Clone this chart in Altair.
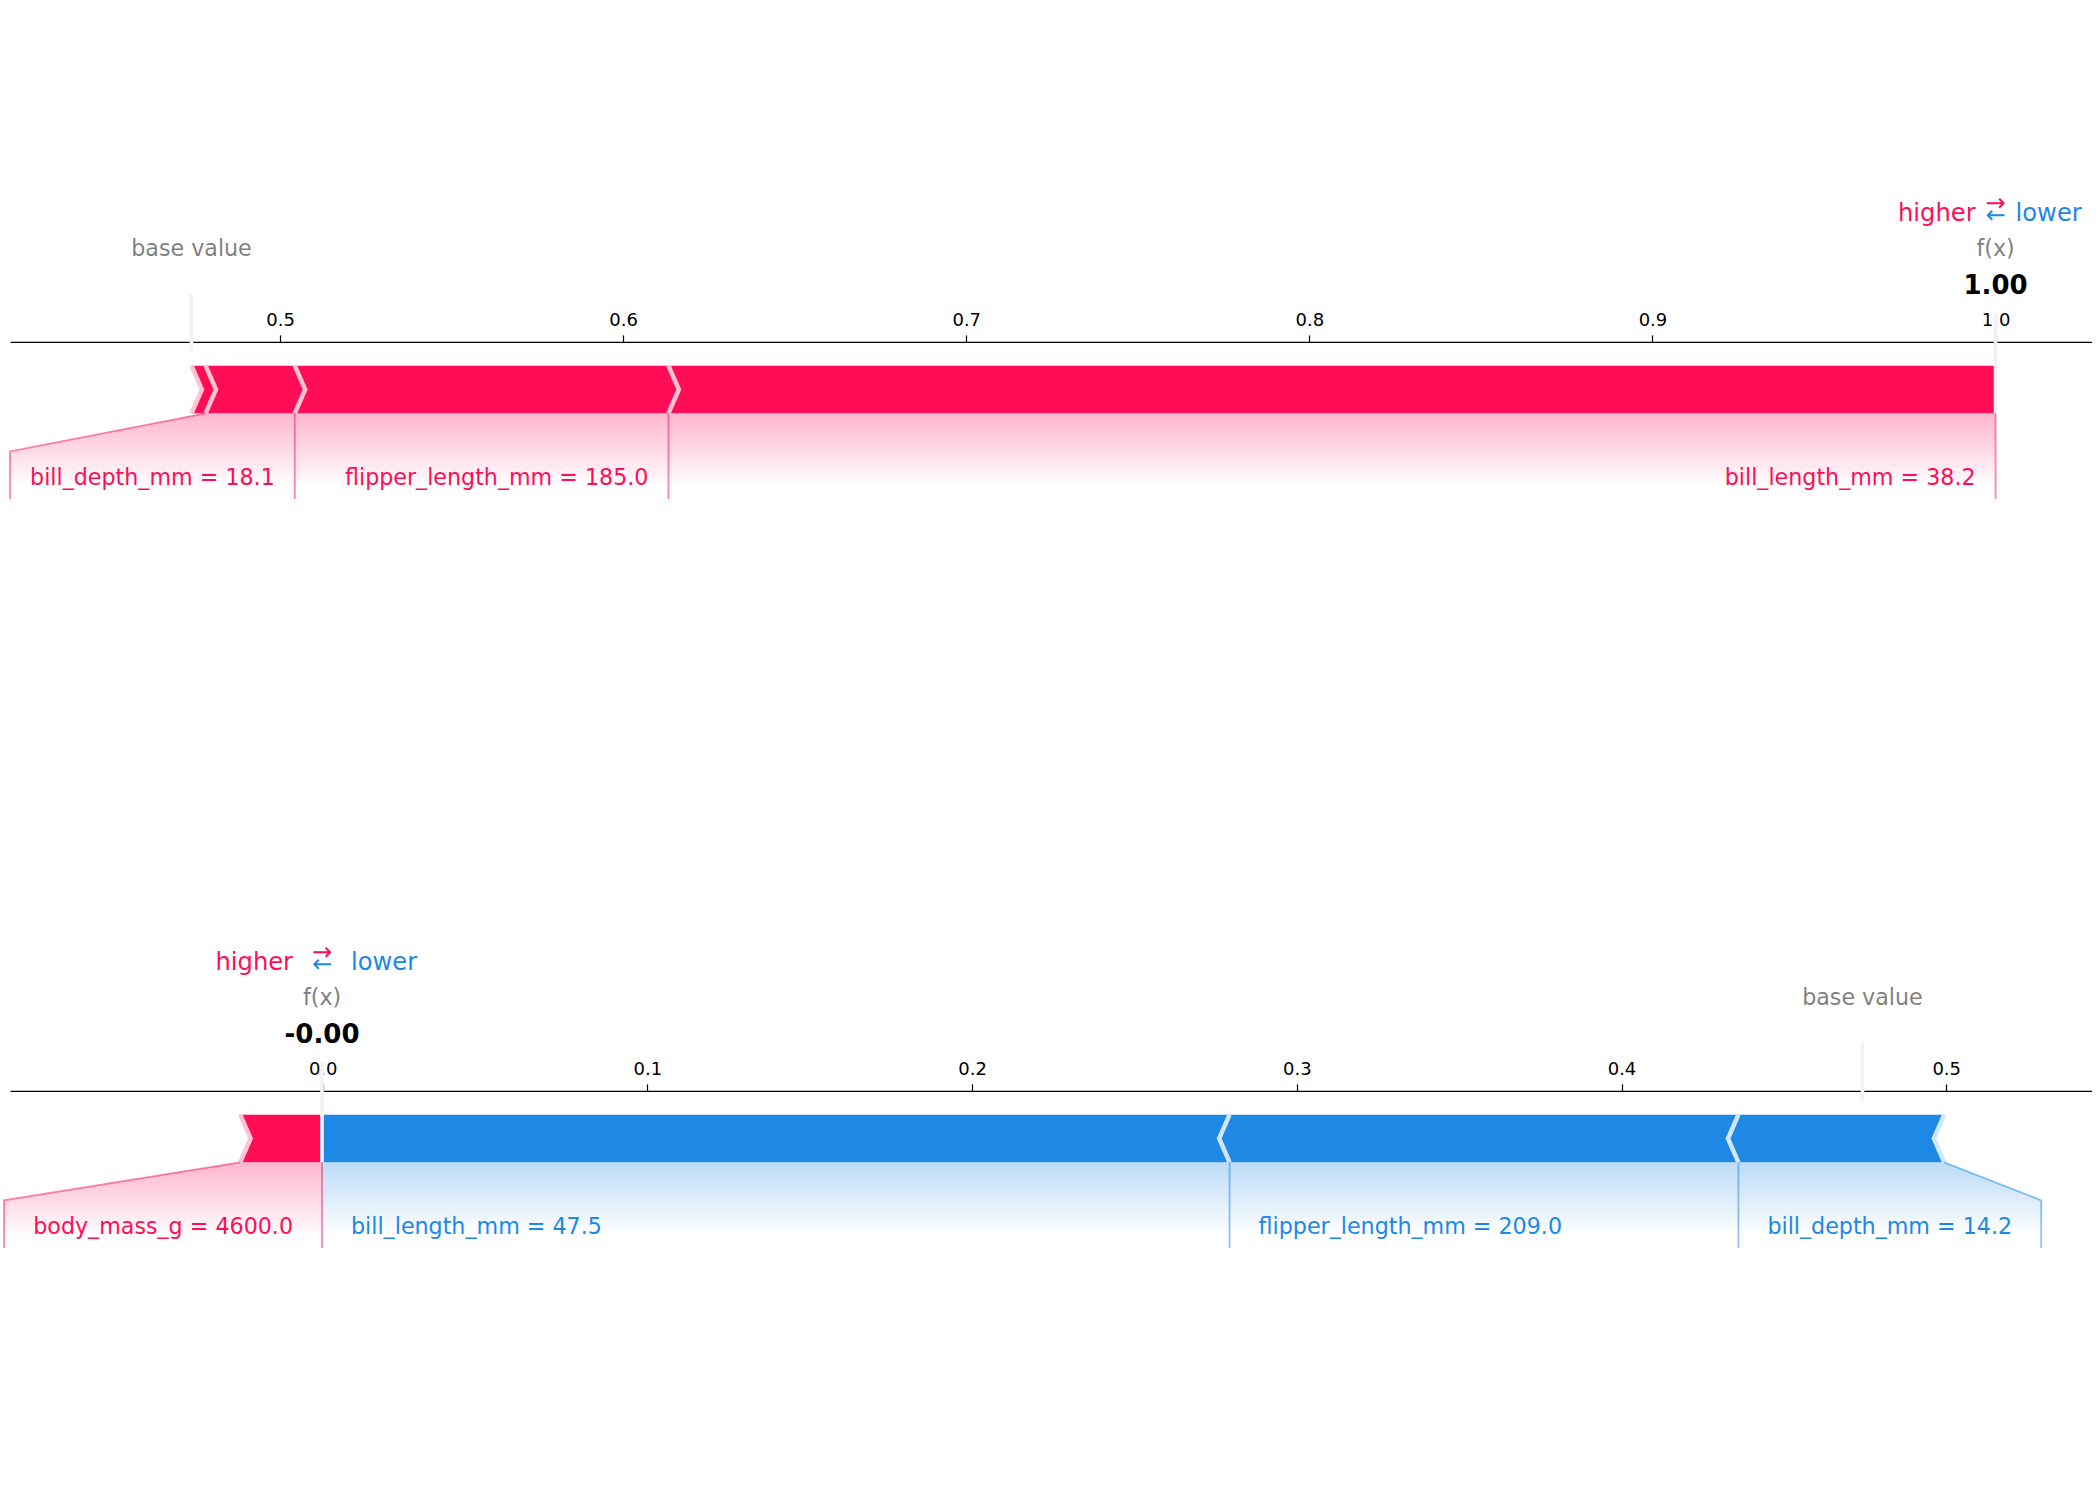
import altair as alt
import pandas as pd

# ---------------- data: upper force plot ----------------
TOP_FEATURES = ["bill_length_mm", "flipper_length_mm", "bill_depth_mm", "body_mass_g"]
TOP_VALUES = ["38.2", "185.0", "18.1", ""]          # "" = too small to be labelled
TOP_SHAP = [0.3868, 0.1089, 0.0260, 0.0041]
TOP_BASE = 0.4742
TOP_FX_TEXT = "1.00"
TOP_XDOMAIN = [0.4213, 1.0281]
TOP_TICKS = [0.5, 0.6, 0.7, 0.8, 0.9, 1.0]

# ---------------- data: lower force plot ----------------
BOT_FEATURES = ["body_mass_g", "bill_length_mm", "flipper_length_mm", "bill_depth_mm"]
BOT_VALUES = ["4600.0", "47.5", "209.0", "14.2"]
BOT_SHAP = [0.0252, -0.2795, -0.1567, -0.0634]
BOT_BASE = 0.4742
BOT_FX_TEXT = "-0.00"
BOT_XDOMAIN = [-0.0963, 0.5449]
BOT_TICKS = [0.0, 0.1, 0.2, 0.3, 0.4, 0.5]

# ---------------- style ----------------
RED, RED_LIGHT, RED_SHADE = "#FF0D57", "#FFC3D5", "#FFB6CD"
BLUE, BLUE_LIGHT, BLUE_SHADE = "#1E88E5", "#D1E6FA", "#BCDBF7"
GRAY_LINE = "#F2F2F2"
FONT = "DejaVu Sans"

W, H = 2082, 749
PX_PER_Y = 476.0
Y_TOP = 0.8683
Y_BOT = Y_TOP - H / PX_PER_Y
BAR_H = 0.1
LABEL_FS = 22.2
HL_FS = 24.2
VAL_FS = 26.0

ADV = {' ': 651, '.': 651, '=': 1716, '_': 1024, '-': 739, '(': 799, ')': 799,
       'a': 1255, 'b': 1300, 'c': 1126, 'd': 1300, 'e': 1260, 'f': 721, 'g': 1300,
       'h': 1298, 'i': 569, 'j': 569, 'k': 1186, 'l': 569, 'm': 1995, 'n': 1298,
       'o': 1253, 'p': 1300, 'q': 1300, 'r': 842, 's': 1067, 't': 803, 'u': 1298,
       'v': 1212, 'w': 1675, 'x': 1212, 'y': 1212, 'z': 1075}


def text_width(s, fs):
    return sum(ADV.get(c, 1303) for c in s) / 2048.0 * fs


def build_panel(features, values, shap, base, fx_text, xdomain, ticks, off_px):
    xr = xdomain[1] - xdomain[0]
    upx = xr / W
    off = off_px * upx
    ind = xr / 200.0
    out = base + sum(shap)
    items = list(zip(features, values, shap))
    pos = sorted([t for t in items if t[2] > 0], key=lambda t: -t[2])
    neg = sorted([t for t in items if t[2] < 0], key=lambda t: t[2])

    bars, seps, lines, texts = [], [], [], []
    ys = [0.0, BAR_H / 2, BAR_H]

    # ---- bars & separators ----
    pre = out
    for i, (f, v, s) in enumerate(pos):
        right, left = pre, pre - s
        pre = left
        if i == 0:
            xs = [left, left + ind, left]
            x2s = [right, right, right]
        else:
            xs = [left, left + 0.9 * ind, left]
            x2s = [right, right + 0.9 * ind, right]
        for y, a, b in zip(ys, xs, x2s):
            bars.append(dict(fid="p" + f, x=a, x2=b, y=y, col=RED))
        for k, (a, y) in enumerate([(left, 0.0), (left + ind, BAR_H / 2), (left, BAR_H)]):
            seps.append(dict(fid="p" + f, k=k, x=a, y=y, col=RED_LIGHT))
    pre = out
    for i, (f, v, s) in enumerate(neg):
        left, right = pre, pre - s
        pre = right
        if i == 0:
            xs = [left, left, left]
            x2s = [right, right - ind, right]
        else:
            xs = [left, left - 0.9 * ind, left]
            x2s = [right, right - 0.9 * ind, right]
        for y, a, b in zip(ys, xs, x2s):
            bars.append(dict(fid="n" + f, x=a, x2=b, y=y, col=BLUE))
        for k, (a, y) in enumerate([(right, 0.0), (right - ind, BAR_H / 2), (right, BAR_H)]):
            seps.append(dict(fid="n" + f, k=k, x=a, y=y, col=BLUE_LIGHT))

    # ---- labels (positive side) ----
    shades = {}
    lid = 0
    if pos:
        for k, (a, y) in enumerate([(out, 0.0), (out, -0.18)]):
            lines.append(dict(lid=lid, k=k, x=a, y=y, col=RED))
        lid += 1
    start, pre, box_end = out, out, out
    for f, v, s in pos:
        if v == "":
            break
        val = pre - s
        label = f + " = " + v
        tw = text_width(label, LABEL_FS) * upx
        texts.append(dict(x=start - off, y=-0.15, text=label, col=RED, size=LABEL_FS,
                          op=1.0, align="right", weight="normal"))
        left_edge = start - off - tw
        if left_edge > val:
            pts = [(val, 0.0), (val, -0.18)]
            start = box_end = val
        else:
            box_end = left_edge - off
            pts = [(val, 0.0), (box_end, -0.08), (box_end, -0.18)]
            start = box_end
        for k, (a, y) in enumerate(pts):
            lines.append(dict(lid=lid, k=k, x=a, y=y, col=RED))
        lid += 1
        pre = val
    if pos:
        shades["pos"] = [dict(x=a, x2=out, y=y) for a, y in
                         [(pre, 0.0), (box_end, -0.08), (box_end, -0.2)]]

    # ---- labels (negative side) ----
    start, pre, box_end = out, out, out
    for f, v, s in neg:
        if v == "":
            break
        val = pre - s
        label = f + " = " + v
        tw = text_width(label, LABEL_FS) * upx
        texts.append(dict(x=start + off, y=-0.15, text=label, col=BLUE, size=LABEL_FS,
                          op=1.0, align="left", weight="normal"))
        right_edge = start + off + tw
        if right_edge < val:
            pts = [(val, 0.0), (val, -0.18)]
            start = box_end = val
        else:
            box_end = right_edge + off
            pts = [(val, 0.0), (box_end, -0.08), (box_end, -0.18)]
            start = box_end
        for k, (a, y) in enumerate(pts):
            lines.append(dict(lid=lid, k=k, x=a, y=y, col=BLUE))
        lid += 1
        pre = val
    if neg:
        shades["neg"] = [dict(x=out, x2=a, y=y) for a, y in
                         [(pre, 0.0), (box_end, -0.08), (box_end, -0.2)]]

    # ---- header texts ----
    texts += [
        dict(x=base, y=0.33, text="base value", col="#000000", size=LABEL_FS, op=0.5,
             align="center", weight="normal"),
        dict(x=out, y=0.33, text="f(x)", col="#000000", size=LABEL_FS, op=0.5,
             align="center", weight="normal"),
        dict(x=out, y=0.25, text=fx_text, col="#000000", size=VAL_FS, op=1.0,
             align="center", weight="bold"),
        dict(x=out - off, y=0.405, text="higher", col=RED, size=HL_FS, op=1.0,
             align="right", weight="normal"),
        dict(x=out + off, y=0.405, text="lower", col=BLUE, size=HL_FS, op=1.0,
             align="left", weight="normal"),
        dict(x=out, y=0.4, text="\u2190", col=BLUE, size=HL_FS, op=1.0,
             align="center", weight="normal"),
        dict(x=out, y=0.425, text="\u2192", col=RED, size=HL_FS, op=1.0,
             align="center", weight="normal"),
    ]
    rules = [dict(x=base, y=0.13, y2=0.25), dict(x=out, y=0.0, y2=0.21)]

    # ---- encodings ----
    ax_off = -(Y_TOP - 0.15) * PX_PER_Y
    AX = alt.Axis(orient="top", offset=ax_off, values=ticks, format=".1f", grid=False,
                  domainColor="black", domainWidth=1.2, tickColor="black", tickWidth=1.2,
                  tickSize=7, labelFont=FONT, labelFontSize=18, labelColor="black",
                  labelPadding=5, labelFlush=False, labelOverlap=False, labelBound=False)
    XS = alt.Scale(domain=xdomain, nice=False, zero=False)
    YS = alt.Scale(domain=[Y_BOT, Y_TOP], nice=False, zero=False)

    def X():
        return alt.X("x:Q", scale=XS, axis=AX, title=None, stack=False)

    def Y():
        return alt.Y("y:Q", scale=YS, axis=None, stack=False)

    layers = []
    for key, shade_col in [("pos", RED_SHADE), ("neg", BLUE_SHADE)]:
        if key in shades:
            grad = alt.Gradient(gradient="linear",
                                stops=[alt.GradientStop(color=shade_col, offset=0),
                                       alt.GradientStop(color="#FFFFFF", offset=0.775),
                                       alt.GradientStop(color="#FFFFFF", offset=1)],
                                x1=0, x2=0, y1=0, y2=1)
            layers.append(alt.Chart(pd.DataFrame(shades[key])).mark_area(
                orient="horizontal", color=grad, opacity=1).encode(
                x=X(), x2=alt.X2("x2"), y=Y()))
    layers.append(alt.Chart(pd.DataFrame(bars)).mark_area(orient="horizontal", opacity=1).encode(
        x=X(), x2=alt.X2("x2"), y=Y(), color=alt.Color("col:N", scale=None),
        detail="fid:N"))
    layers.append(alt.Chart(pd.DataFrame(seps)).mark_line(
        strokeWidth=4.5, strokeJoin="miter", strokeCap="butt").encode(
        x=X(), y=Y(), color=alt.Color("col:N", scale=None), detail="fid:N",
        order=alt.Order("k:Q")))
    layers.append(alt.Chart(pd.DataFrame(lines)).mark_line(
        strokeWidth=1.8, opacity=0.5, strokeJoin="miter").encode(
        x=X(), y=Y(), color=alt.Color("col:N", scale=None), detail="lid:N",
        order=alt.Order("k:Q")))
    layers.append(alt.Chart(pd.DataFrame(rules)).mark_rule(
        color=GRAY_LINE, strokeWidth=3.7).encode(x=X(), y=Y(), y2=alt.Y2("y2")))

    tdf = pd.DataFrame(texts)
    for (al, wt), sub in tdf.groupby(["align", "weight"]):
        layers.append(alt.Chart(sub.drop(columns=["align", "weight"])).mark_text(
            align=al, baseline="alphabetic", font=FONT, fontWeight=wt).encode(
            x=X(), y=Y(), text="text:N", color=alt.Color("col:N", scale=None),
            size=alt.Size("size:Q", scale=None), opacity=alt.Opacity("op:Q", scale=None)))

    return alt.layer(*layers).properties(width=W, height=H)


top = build_panel(TOP_FEATURES, TOP_VALUES, TOP_SHAP, TOP_BASE, TOP_FX_TEXT,
                  TOP_XDOMAIN, TOP_TICKS, 20)
bottom = build_panel(BOT_FEATURES, BOT_VALUES, BOT_SHAP, BOT_BASE, BOT_FX_TEXT,
                     BOT_XDOMAIN, BOT_TICKS, 29)

chart = alt.vconcat(top, bottom, spacing=0).properties(
    padding={"left": 0, "top": 0, "right": 0, "bottom": 0},
    background="white",
).configure_view(stroke=None)

chart.save("out.html", embed_options={"renderer": "svg", "actions": False})
